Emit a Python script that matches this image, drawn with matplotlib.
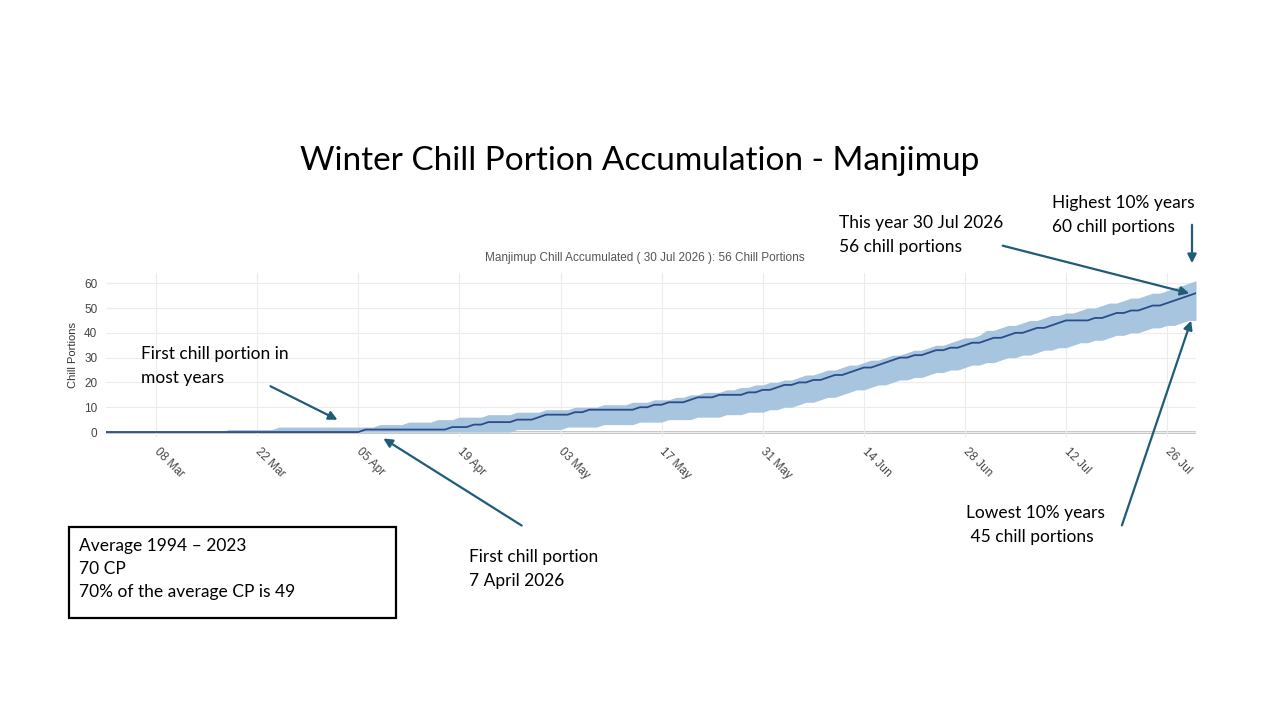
import pandas as pd
import numpy as np
import matplotlib
matplotlib.use("Agg")
import matplotlib.pyplot as plt
import matplotlib.dates as mdates
from matplotlib.patches import Rectangle, FancyArrowPatch

# daily chill portions, 1 Mar - 30 Jul 2026
this_year = (
    [0] * 31
    + [0] * 5 + [1] * 12 + [2] * 3 + [3] * 2 + [4] * 4 + [5] * 3 + [6]
    + [7] * 4 + [8] * 2 + [9] * 7 + [10] * 2 + [11] * 2 + [12] * 3 + [13] + [14] * 3 + [15] * 4 + [16] * 2 + [17]
    + [17, 18, 19, 19, 20, 20, 21, 21, 22, 23, 23, 24, 25, 26, 26, 27, 28, 29, 30, 30,
       31, 31, 32, 33, 33, 34, 34, 35, 36, 36]
    + [37, 38, 38, 39, 40, 40, 41, 42, 42, 43, 44, 45, 45, 45, 45, 46, 46, 47, 48, 48,
       49, 49, 50, 51, 51, 52, 53, 54, 55, 56]
)
highest_10 = (
    [0] * 17 + [1] * 7 + [2] * 7
    + [2] * 7 + [3] * 4 + [4] * 4 + [5] * 3 + [6] * 4 + [7] * 4 + [8] * 4
    + [9] * 4 + [10] * 4 + [11] * 4 + [12] * 3 + [13] * 3 + [14] * 2 + [15] * 2 + [16] * 3 + [17] * 2 + [18] * 2 + [19] * 2
    + [20, 20, 21, 21, 22, 23, 23, 24, 25, 25, 26, 27, 27, 28, 29, 29, 30, 31, 31, 32,
       33, 33, 34, 35, 35, 36, 37, 38, 38, 39]
    + [41, 41, 42, 43, 43, 44, 45, 45, 46, 47, 47, 48, 48, 49, 50, 50, 51, 52, 52, 53,
       54, 54, 55, 56, 56, 57, 58, 59, 60, 61]
)
lowest_10 = (
    [0] * 31
    + [0] * 26 + [1] * 4
    + [1] * 3 + [2] * 5 + [3] * 5 + [4] * 4 + [5] * 4 + [6] * 4 + [7] * 3 + [8] * 3
    + [9, 9, 10, 10, 11, 12, 12, 13, 14, 14, 15, 16, 17, 17, 18, 19, 19, 20, 21, 21,
       22, 22, 23, 24, 24, 25, 25, 26, 27, 27]
    + [28, 28, 29, 30, 30, 31, 31, 32, 33, 33, 34, 34, 35, 36, 36, 37, 37, 38, 39, 39,
       40, 40, 41, 42, 42, 43, 43, 44, 45, 45]
)
dates = pd.date_range("2026-03-01", "2026-07-30", freq="D")
tick_dates = pd.date_range("2026-03-08", "2026-07-26", freq="14D")

band_col = "#a7c5df"
line_col = "#2a4c8b"
arrow_col = "#1f5c78"
ann_font = ["Lato", "DejaVu Sans"]
plot_font = ["Liberation Sans", "DejaVu Sans"]

W, H = 1280, 720


def fx(px):
    return px / W


def fy(py):
    return 1 - py / H


fig = plt.figure(figsize=(12.8, 7.2), dpi=100)
fig.patch.set_facecolor("white")

# axes placed in pixel layout of the slide
x0, x1 = 105.6, 1196
y_top, y_bot = 273.3, 437
ax = fig.add_axes([fx(x0), fy(y_bot), (x1 - x0) / W, (y_bot - y_top) / H])

ax.fill_between(dates, lowest_10, highest_10, color=band_col, linewidth=0, zorder=2)
ax.plot(dates, this_year, color=line_col, linewidth=1.3, zorder=3)
ax.axhline(0, color="#b4b4b4", linewidth=1.8, zorder=1)

ax.set_xlim(dates[0], dates[-1])
ax.set_ylim(-2, 64)
ax.set_yticks([0, 10, 20, 30, 40, 50, 60])
ax.set_xticks(tick_dates)
ax.xaxis.set_major_formatter(mdates.DateFormatter("%d %b"))
ax.grid(True, color="#ececec", linewidth=0.8, zorder=0)
for s in ax.spines.values():
    s.set_visible(False)
ax.tick_params(axis="both", length=0, colors="#444444", labelsize=8.5)
ax.tick_params(axis="x", pad=9)
ax.tick_params(axis="y", pad=6)
for lab in ax.get_xticklabels():
    lab.set_rotation(-45)
    lab.set_rotation_mode("anchor")
    lab.set_ha("left")
    lab.set_va("center")
    lab.set_family(plot_font)
for lab in ax.get_yticklabels():
    lab.set_family(plot_font)
ax.set_ylabel("Chill Portions", fontsize=8, color="#333333", family=plot_font, labelpad=4)

# slide title and chart subtitle
fig.text(fx(640), fy(161), "Winter Chill Portion Accumulation - Manjimup",
         ha="center", va="center", fontsize=24, family=ann_font, color="black")
fig.text(fx(645), fy(258), "Manjimup Chill Accumulated ( 30 Jul 2026 ): 56 Chill Portions",
         ha="center", va="center", fontsize=8.5, family=plot_font, color="#555555")


def note(px, py, txt):
    fig.text(fx(px), fy(py), txt, ha="left", va="center", fontsize=12.5,
             family=ann_font, color="black", linespacing=1.55)


def arrow(p_from, p_to):
    fig.add_artist(FancyArrowPatch(
        (fx(p_from[0]), fy(p_from[1])), (fx(p_to[0]), fy(p_to[1])),
        transform=fig.transFigure, arrowstyle="-|>", mutation_scale=13,
        color=arrow_col, linewidth=1.6))


note(141, 366, "First chill portion in\nmost years")
arrow((268, 385), (340, 421))

note(469, 569, "First chill portion\n7 April 2026")
arrow((524, 527), (381, 437))

note(839, 235, "This year 30 Jul 2026\n56 chill portions")
arrow((1000, 245), (1192, 294))

note(1052, 215, "Highest 10% years\n60 chill portions")
arrow((1192, 222), (1192, 266))

note(966, 525, "Lowest 10% years\n 45 chill portions")
arrow((1121, 528), (1192, 318))

# average box
fig.add_artist(Rectangle((fx(69), fy(618)), (396 - 69) / W, (618 - 527) / H,
                         transform=fig.transFigure, fill=False,
                         edgecolor="black", linewidth=1.6))
fig.text(fx(79), fy(569), "Average 1994 \u2013 2023\n70 CP\n70% of the average CP is 49",
         ha="left", va="center", fontsize=12.5, family=ann_font, color="black",
         linespacing=1.55)

fig.savefig("out.png", dpi=100)
